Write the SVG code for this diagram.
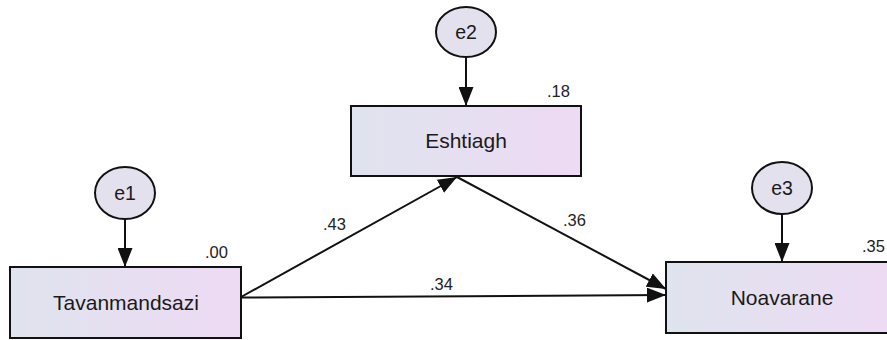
<svg xmlns="http://www.w3.org/2000/svg" width="887" height="340" viewBox="0 0 887 340">
  <style>
    .box { stroke: #111; stroke-width: 2; fill: url(#boxGrad); }
    .err { stroke: #111; stroke-width: 2; fill: #e4e1ef; }
    .conn { stroke: #111; stroke-width: 2; fill: none; marker-end: url(#arrow); }
    .name { font-family: "Liberation Sans", Arial, sans-serif; font-size: 21px; fill: #1a1a1a; text-anchor: middle; }
    .ename { font-family: "Liberation Sans", Arial, sans-serif; font-size: 19.5px; fill: #1a1a1a; text-anchor: middle; }
    .num { font-family: "Liberation Sans", Arial, sans-serif; font-size: 16.5px; fill: #222; }
  </style>
  <defs>
    <linearGradient id="boxGrad" x1="0" y1="0" x2="1" y2="0">
      <stop offset="0" stop-color="#dfe4ee"/>
      <stop offset="1" stop-color="#eedaf4"/>
    </linearGradient>
    <marker id="arrow" viewBox="0 0 19 15" refX="19" refY="7.5" markerWidth="19" markerHeight="15" markerUnits="userSpaceOnUse" orient="auto">
      <path d="M0,0 L19,7.5 L0,15 Z" fill="#111"/>
    </marker>
  </defs>
  <rect width="887" height="340" fill="#ffffff"/>

  <g id="connectors">
    <line class="conn" x1="125" y1="219" x2="125" y2="267"/>
    <line class="conn" x1="466" y1="57" x2="466" y2="106"/>
    <line class="conn" x1="782" y1="214" x2="782" y2="262"/>
    <line class="conn" x1="241" y1="297" x2="457" y2="177"/>
    <line class="conn" x1="457" y1="177" x2="666" y2="289"/>
    <line class="conn" x1="241" y1="297.5" x2="666" y2="295"/>
    <text class="num" x="323" y="230">.43</text>
    <text class="num" x="563" y="226">.36</text>
    <text class="num" x="430" y="290">.34</text>
  </g>

  <g id="e1">
    <ellipse class="err" cx="125" cy="193" rx="30" ry="26"/>
    <text class="ename" x="125" y="200">e1</text>
  </g>
  <g id="e2">
    <ellipse class="err" cx="466" cy="32" rx="30" ry="25"/>
    <text class="ename" x="466" y="39">e2</text>
  </g>
  <g id="e3">
    <ellipse class="err" cx="782" cy="188" rx="30" ry="26"/>
    <text class="ename" x="782" y="195">e3</text>
  </g>

  <g id="Tavanmandsazi">
    <rect class="box" x="10" y="267" width="231" height="71"/>
    <text class="name" x="126" y="310">Tavanmandsazi</text>
    <text class="num" x="205" y="258">.00</text>
  </g>
  <g id="Eshtiagh">
    <rect class="box" x="351" y="106" width="230" height="70"/>
    <text class="name" x="466" y="148">Eshtiagh</text>
    <text class="num" x="547" y="97">.18</text>
  </g>
  <g id="Noavarane">
    <rect class="box" x="666" y="262" width="240" height="71"/>
    <text class="name" x="782" y="305">Noavarane</text>
    <text class="num" x="862" y="252">.35</text>
  </g>
</svg>
